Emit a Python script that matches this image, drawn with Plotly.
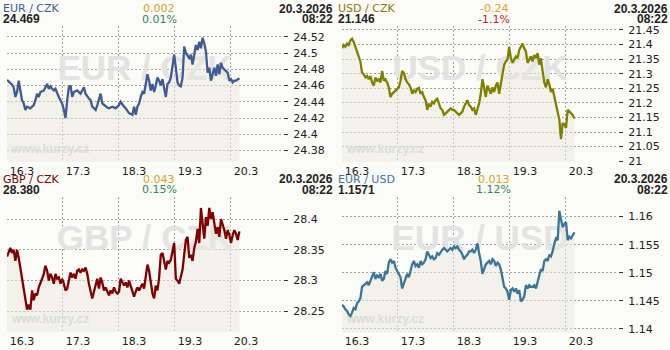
import plotly.graph_objects as go
import pandas as pd

# ---------------- data ----------------
times = pd.date_range("2026-03-16 00:00", periods=140, freq="43min")

pairs = ["EUR / CZK", "USD / CZK", "GBP / CZK", "EUR / USD"]

eur_czk = [
    24.467, 24.465, 24.464, 24.461, 24.458, 24.446, 24.452, 24.466, 24.454, 24.442,
    24.438, 24.430, 24.434, 24.433, 24.432, 24.434, 24.436, 24.442, 24.450, 24.446,
    24.452, 24.453, 24.454, 24.458, 24.462, 24.456, 24.459, 24.456, 24.454, 24.456,
    24.450, 24.446, 24.442, 24.438, 24.430, 24.420, 24.442, 24.458, 24.460, 24.446,
    24.452, 24.453, 24.454, 24.452, 24.450, 24.454, 24.458, 24.450, 24.446, 24.444,
    24.442, 24.434, 24.432, 24.430, 24.436, 24.442, 24.450, 24.438, 24.436, 24.434,
    24.433, 24.432, 24.433, 24.434, 24.433, 24.432, 24.434, 24.436, 24.440, 24.436,
    24.434, 24.432, 24.429, 24.426, 24.425, 24.424, 24.434, 24.424, 24.434, 24.438,
    24.446, 24.452, 24.450, 24.460, 24.474, 24.466, 24.454, 24.462, 24.452, 24.460,
    24.470, 24.466, 24.460, 24.468, 24.458, 24.446, 24.462, 24.464, 24.470, 24.482,
    24.498, 24.482, 24.464, 24.460, 24.459, 24.470, 24.508, 24.500, 24.496, 24.494,
    24.498, 24.486, 24.498, 24.510, 24.504, 24.514, 24.506, 24.519, 24.512, 24.502,
    24.476, 24.482, 24.466, 24.476, 24.482, 24.472, 24.486, 24.474, 24.488, 24.482,
    24.480, 24.478, 24.476, 24.466, 24.468, 24.464, 24.466, 24.466, 24.468, 24.469,
]

usd_czk = [
    21.387, 21.398, 21.392, 21.403, 21.398, 21.414, 21.420, 21.409, 21.392, 21.376,
    21.359, 21.342, 21.303, 21.298, 21.287, 21.292, 21.281, 21.292, 21.270, 21.259,
    21.287, 21.276, 21.281, 21.270, 21.309, 21.276, 21.281, 21.270, 21.253, 21.220,
    21.231, 21.237, 21.242, 21.248, 21.253, 21.276, 21.309, 21.303, 21.281, 21.270,
    21.264, 21.253, 21.231, 21.242, 21.237, 21.248, 21.251, 21.231, 21.237, 21.220,
    21.209, 21.176, 21.198, 21.187, 21.203, 21.198, 21.209, 21.214, 21.198, 21.181,
    21.176, 21.159, 21.164, 21.170, 21.176, 21.181, 21.176, 21.176, 21.170, 21.164,
    21.159, 21.164, 21.170, 21.187, 21.198, 21.209, 21.192, 21.187, 21.176, 21.181,
    21.159, 21.176, 21.198, 21.231, 21.281, 21.253, 21.220, 21.259, 21.242, 21.231,
    21.253, 21.237, 21.259, 21.270, 21.231, 21.264, 21.309, 21.331, 21.342, 21.348,
    21.392, 21.353, 21.337, 21.348, 21.359, 21.353, 21.381, 21.392, 21.403, 21.387,
    21.376, 21.337, 21.348, 21.359, 21.342, 21.364, 21.353, 21.370, 21.331, 21.353,
    21.309, 21.270, 21.253, 21.281, 21.264, 21.237, 21.248, 21.220, 21.198, 21.176,
    21.142, 21.076, 21.131, 21.126, 21.114, 21.176, 21.170, 21.164, 21.159, 21.146,
]

gbp_czk = [
    28.339, 28.347, 28.353, 28.345, 28.350, 28.332, 28.350, 28.337, 28.321, 28.305,
    28.292, 28.274, 28.253, 28.261, 28.253, 28.284, 28.268, 28.279, 28.276, 28.289,
    28.295, 28.303, 28.311, 28.324, 28.316, 28.300, 28.311, 28.305, 28.295, 28.311,
    28.303, 28.305, 28.295, 28.303, 28.295, 28.284, 28.287, 28.300, 28.313, 28.305,
    28.311, 28.303, 28.316, 28.318, 28.313, 28.318, 28.316, 28.321, 28.311, 28.295,
    28.284, 28.271, 28.282, 28.295, 28.303, 28.287, 28.305, 28.297, 28.284, 28.289,
    28.282, 28.276, 28.284, 28.279, 28.289, 28.282, 28.279, 28.282, 28.303, 28.297,
    28.292, 28.297, 28.289, 28.300, 28.292, 28.284, 28.274, 28.282, 28.289, 28.284,
    28.289, 28.295, 28.287, 28.305, 28.326, 28.316, 28.300, 28.279, 28.271, 28.292,
    28.284, 28.305, 28.342, 28.345, 28.332, 28.318, 28.332, 28.329, 28.334, 28.350,
    28.361, 28.303, 28.300, 28.295, 28.305, 28.318, 28.342, 28.366, 28.371, 28.337,
    28.342, 28.332, 28.353, 28.363, 28.384, 28.361, 28.418, 28.395, 28.368, 28.403,
    28.389, 28.418, 28.400, 28.411, 28.392, 28.376, 28.387, 28.371, 28.400, 28.392,
    28.382, 28.368, 28.382, 28.374, 28.361, 28.374, 28.382, 28.376, 28.366, 28.380,
]

eur_usd = [
    1.1443, 1.1440, 1.1435, 1.1432, 1.1426, 1.1423, 1.1429, 1.1437, 1.1435, 1.1446,
    1.1449, 1.1455, 1.1475, 1.1478, 1.1481, 1.1483, 1.1478, 1.1486, 1.1492, 1.1501,
    1.1489, 1.1495, 1.1492, 1.1498, 1.1486, 1.1489, 1.1503, 1.1498, 1.1518, 1.1524,
    1.1518, 1.1521, 1.1509, 1.1503, 1.1495, 1.1492, 1.1472, 1.1481, 1.1489, 1.1498,
    1.1492, 1.1506, 1.1515, 1.1521, 1.1512, 1.1515, 1.1509, 1.1521, 1.1515, 1.1518,
    1.1524, 1.1538, 1.1532, 1.1526, 1.1529, 1.1524, 1.1526, 1.1535, 1.1532, 1.1538,
    1.1541, 1.1544, 1.1541, 1.1538, 1.1541, 1.1544, 1.1541, 1.1547, 1.1544, 1.1547,
    1.1541, 1.1538, 1.1532, 1.1524, 1.1529, 1.1532, 1.1538, 1.1538, 1.1541, 1.1535,
    1.1541, 1.1552, 1.1535, 1.1521, 1.1498, 1.1509, 1.1515, 1.1518, 1.1521, 1.1515,
    1.1524, 1.1521, 1.1512, 1.1518, 1.1515, 1.1506, 1.1486, 1.1475, 1.1472, 1.1466,
    1.1452, 1.1469, 1.1472, 1.1466, 1.1472, 1.1463, 1.1469, 1.1449, 1.1452, 1.1458,
    1.1478, 1.1472, 1.1478, 1.1475, 1.1475, 1.1478, 1.1472, 1.1486, 1.1495, 1.1506,
    1.1503, 1.1521, 1.1524, 1.1521, 1.1532, 1.1529, 1.1538, 1.1552, 1.1561, 1.1558,
    1.1610, 1.1595, 1.1581, 1.1587, 1.1590, 1.1558, 1.1564, 1.1561, 1.1567, 1.1572,
]

series_values = [eur_czk, usd_czk, gbp_czk, eur_usd]
last_values = ["24.469", "21.146", "28.380", "1.1571"]
changes = ["0.002", "-0.24", "0.043", "0.013"]
change_pcts = ["0.01%", "-1.1%", "0.15%", "1.12%"]
stamp_date = "20.3.2026"
stamp_time = "08:22"

x_tick_dates = ["2026-03-16", "2026-03-17", "2026-03-18", "2026-03-19", "2026-03-20"]
x_tick_labels = ["16.3", "17.3", "18.3", "19.3", "20.3"]
x_range = ["2026-03-16 00:00", "2026-03-20 22:19"]

y_tick_vals = [
    [24.38, 24.40, 24.42, 24.44, 24.46, 24.48, 24.50, 24.52],
    [21.00, 21.05, 21.10, 21.15, 21.20, 21.25, 21.30, 21.35, 21.40, 21.45],
    [28.25, 28.30, 28.35, 28.40],
    [1.140, 1.145, 1.150, 1.155, 1.160],
]
y_tick_labels = [
    ["24.38", "24.4", "24.42", "24.44", "24.46", "24.48", "24.5", "24.52"],
    ["21", "21.05", "21.1", "21.15", "21.2", "21.25", "21.3", "21.35", "21.4", "21.45"],
    ["28.25", "28.3", "28.35", "28.4"],
    ["1.14", "1.145", "1.15", "1.155", "1.16"],
]
y_ranges = [
    [24.366, 24.533],
    [20.998, 21.462],
    [28.216, 28.436],
    [1.1394, 1.1635],
]

# ---------------- styling ----------------
W, H = 670, 350
FONT = "DejaVu Sans, sans-serif"
BOLD = "Liberation Sans, Arial, sans-serif"
line_colors = ["#3f5b8f", "#808000", "#800000", "#3a7597"]
fill_color = "rgba(233,233,221,0.5)"
grid_color = "#a3a3a3"
gold = "#dca325"
green = "#2e8b57"
red = "#c42222"
dark = "#222222"
panel_origins = [(0, 0), (335, 0), (0, 175), (335, 175)]

fig = go.Figure()
layout = {}
annotations = []

t0 = pd.Timestamp(x_range[0])
t1 = pd.Timestamp(x_range[1])
x_mid = t0 + (t1 - t0) / 2
x_site = t0 + (t1 - t0) * 0.158

for i, (pair, vals) in enumerate(zip(pairs, series_values)):
    n = i + 1
    xa = "x" if n == 1 else f"x{n}"
    ya = "y" if n == 1 else f"y{n}"
    ox, oy = panel_origins[i]
    lo, hi = y_ranges[i]
    color = line_colors[i]

    # watermarks (below the line)
    fig.add_trace(go.Scatter(
        x=[x_mid], y=[hi - (hi - lo) * 0.33], mode="text", text=[pair],
        textfont=dict(family="Liberation Sans", size=35, color="#e3e3e3", weight="bold"),
        textposition="middle center", xaxis=xa, yaxis=ya, hoverinfo="skip", showlegend=False,
    ))
    fig.add_trace(go.Scatter(
        x=[x_site], y=[hi - (hi - lo) * 0.91], mode="text", text=["www.kurzy.cz"],
        textfont=dict(family="Liberation Sans", size=12, color="#cfcfcf", weight="bold"),
        textposition="middle center", xaxis=xa, yaxis=ya, hoverinfo="skip", showlegend=False,
    ))
    # price line with area
    fig.add_trace(go.Scatter(
        x=times, y=vals, mode="lines", line=dict(color=color, width=2.3),
        fill="tozeroy", fillcolor=fill_color,
        xaxis=xa, yaxis=ya, hoverinfo="skip", showlegend=False,
    ))

    layout[f"xaxis{n}"] = dict(
        domain=[(ox + 7) / W, (ox + 283) / W], range=x_range, anchor=ya,
        type="date", tickvals=x_tick_dates, ticktext=x_tick_labels,
        showgrid=True, gridcolor=grid_color, griddash="2px,2px", gridwidth=1,
        zeroline=False, showline=False, ticks="",
        tickfont=dict(family=FONT, size=11, color=dark),
        ticklabelshift=15, ticklabelstandoff=1, fixedrange=True,
    )
    layout[f"yaxis{n}"] = dict(
        domain=[1 - (oy + 163) / H, 1 - (oy + 24) / H], range=[lo, hi], anchor=xa,
        side="right", tickvals=y_tick_vals[i], ticktext=y_tick_labels[i],
        showgrid=True, gridcolor=grid_color, griddash="2px,2px", gridwidth=1,
        zeroline=False, showline=False, ticks="outside", ticklen=4, tickwidth=1,
        tickcolor="#333333", tickfont=dict(family=FONT, size=11, color=dark),
        ticklabelstandoff=3, fixedrange=True,
    )

    neg = changes[i].startswith("-")
    common = dict(xref="paper", yref="paper", showarrow=False, yanchor="middle", borderpad=0)
    y_top = 1 - (oy + 6) / H
    y_bot = 1 - (oy + 16.5) / H
    annotations += [
        dict(x=(ox + 2) / W, y=y_top, text=pair, xanchor="left",
             font=dict(family=FONT, size=11, color=color), **common),
        dict(x=(ox + 2) / W, y=y_bot, text=last_values[i], xanchor="left",
             font=dict(family=BOLD, size=12, color=dark, weight="bold"), **common),
        dict(x=(ox + 159) / W, y=y_top, text=changes[i], xanchor="center",
             font=dict(family=FONT, size=11, color=gold), **common),
        dict(x=(ox + 159) / W, y=y_bot, text=change_pcts[i], xanchor="center",
             font=dict(family=FONT, size=11, color=red if neg else green), **common),
        dict(x=(ox + 334) / W, y=y_top, text=stamp_date, xanchor="right",
             font=dict(family=BOLD, size=12, color=dark, weight="bold"), **common),
        dict(x=(ox + 334) / W, y=y_bot, text=stamp_time, xanchor="right",
             font=dict(family=BOLD, size=12, color=dark, weight="bold"), **common),
    ]

fig.update_layout(
    width=W, height=H, margin=dict(l=0, r=0, t=0, b=0),
    paper_bgcolor="#fbfbf7", plot_bgcolor="#fbfbf7",
    showlegend=False, annotations=annotations, hovermode=False,
    **layout,
)

fig.write_html("out.html", config={"displayModeBar": False, "staticPlot": True})
